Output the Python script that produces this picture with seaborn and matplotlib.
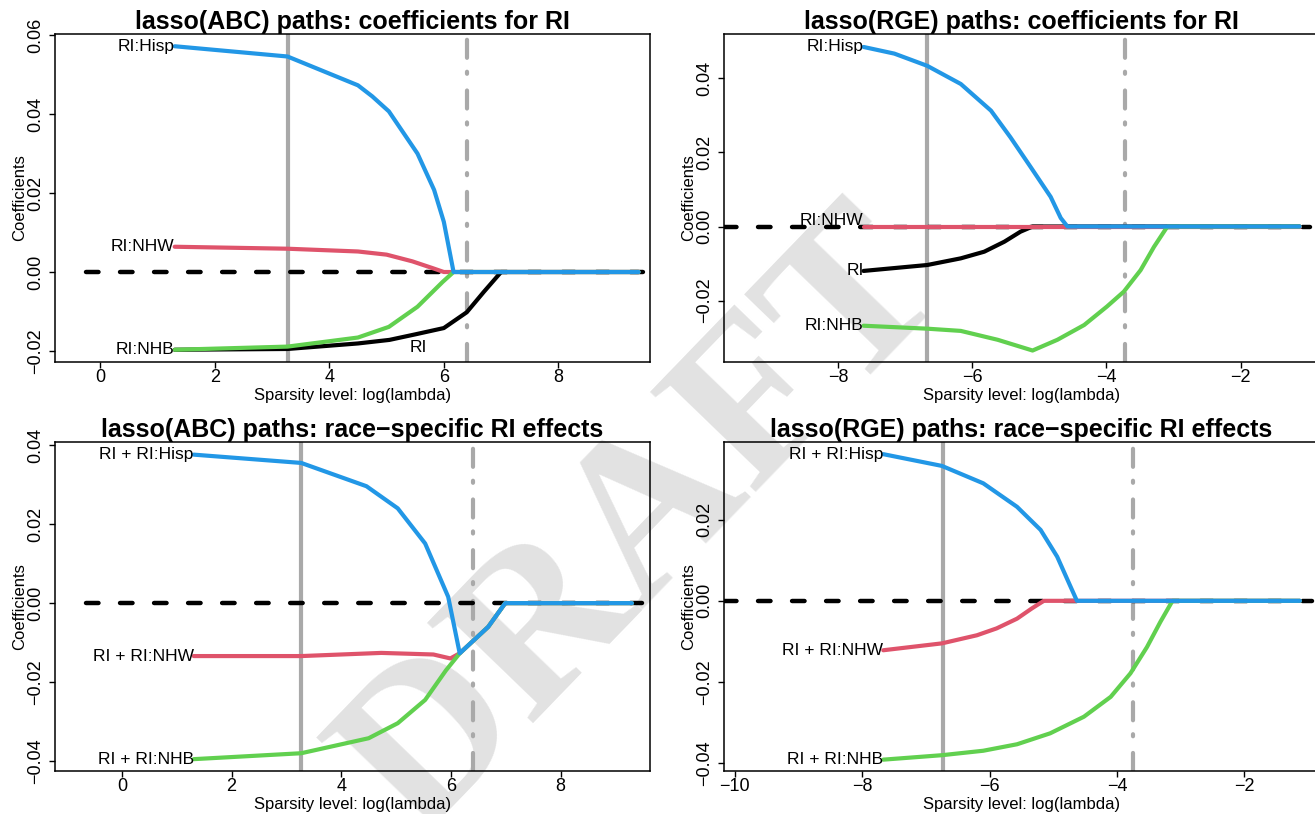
import numpy as np
import pandas as pd
import matplotlib
matplotlib.use("Agg")
import matplotlib.pyplot as plt
import seaborn as sns

# ---------------- data ----------------
term_order = ["RI", "RI:NHW", "RI:NHB", "RI:Hisp"]
term_colors = ["#000000", "#DF536B", "#61D04F", "#2297E6"]

# Panel 1: lasso(ABC) paths: coefficients for RI
p1_ri_x = [1.3, 3.27, 4.5, 5.05, 5.5, 6.0, 6.4, 6.7, 7.0, 9.4]
p1_ri_y = [-0.0197, -0.0195, -0.0181, -0.0172, -0.0158, -0.0142, -0.0102, -0.005, 0.0, 0.0]
p1_nhw_x = [1.3, 3.27, 4.5, 5.0, 5.45, 5.8, 6.0, 9.4]
p1_nhw_y = [0.0064, 0.0059, 0.0052, 0.0044, 0.0027, 0.001, 0.0, 0.0]
p1_nhb_x = [1.3, 3.27, 4.5, 5.04, 5.54, 5.98, 6.17, 9.4]
p1_nhb_y = [-0.0197, -0.0189, -0.0166, -0.0139, -0.0088, -0.0025, 0.0, 0.0]
p1_hisp_x = [1.3, 3.27, 4.5, 4.75, 5.04, 5.54, 5.83, 6.0, 6.17, 9.4]
p1_hisp_y = [0.0572, 0.0546, 0.0473, 0.0445, 0.0407, 0.030, 0.0208, 0.0127, 0.0, 0.0]

# Panel 2: lasso(RGE) paths: coefficients for RI
p2_ri_x = [-7.62, -6.67, -6.17, -5.82, -5.52, -5.28, -5.10, -1.12]
p2_ri_y = [-0.0120, -0.0104, -0.0086, -0.0068, -0.0041, -0.0014, 0.0, 0.0]
p2_nhw_x = [-7.62, -1.12]
p2_nhw_y = [0.0, 0.0]
p2_nhb_x = [-7.62, -6.67, -6.17, -5.62, -5.10, -4.73, -4.33, -3.99, -3.74, -3.49, -3.29, -3.09, -1.12]
p2_nhb_y = [-0.0268, -0.0276, -0.0282, -0.0306, -0.0335, -0.0306, -0.0266, -0.0216, -0.0176,
            -0.0118, -0.0055, 0.0, 0.0]
p2_hisp_x = [-7.62, -7.16, -6.67, -6.17, -5.72, -5.43, -5.13, -5.03, -4.83, -4.68, -4.58, -1.12]
p2_hisp_y = [0.0485, 0.0467, 0.0434, 0.0385, 0.0313, 0.0241, 0.0161, 0.0134, 0.008, 0.0023, 0.0, 0.0]

# Panel 3: lasso(ABC) paths: race-specific RI effects
p3_nhw_x = [1.31, 3.27, 4.73, 5.68, 5.99, 6.16, 6.68, 6.99, 9.3]
p3_nhw_y = [-0.0134, -0.0134, -0.0126, -0.013, -0.014, -0.0127, -0.006, 0.0, 0.0]
p3_nhb_x = [1.31, 3.27, 4.5, 5.03, 5.53, 5.91, 6.16, 6.68, 6.99, 9.3]
p3_nhb_y = [-0.0395, -0.038, -0.0342, -0.0304, -0.0245, -0.017, -0.0127, -0.006, 0.0, 0.0]
p3_hisp_x = [1.31, 3.27, 4.46, 5.03, 5.53, 5.95, 6.16, 6.68, 6.99, 9.3]
p3_hisp_y = [0.0376, 0.0355, 0.0296, 0.024, 0.0151, 0.0016, -0.0127, -0.006, 0.0, 0.0]

# Panel 4: lasso(RGE) paths: race-specific RI effects
p4_nhw_x = [-7.67, -6.75, -6.20, -5.89, -5.57, -5.34, -5.15, -1.13]
p4_nhw_y = [-0.0122, -0.0105, -0.0085, -0.0068, -0.0044, -0.0019, 0.0, 0.0]
p4_nhb_x = [-7.67, -6.75, -6.10, -5.57, -5.05, -4.52, -4.10, -3.79, -3.53, -3.32, -3.13, -1.13]
p4_nhb_y = [-0.0392, -0.0381, -0.037, -0.0354, -0.0327, -0.0286, -0.0237, -0.0179, -0.0114,
            -0.0052, 0.0, 0.0]
p4_hisp_x = [-7.67, -6.75, -6.10, -5.57, -5.20, -4.94, -4.73, -4.63, -1.13]
p4_hisp_y = [0.0362, 0.0333, 0.029, 0.0232, 0.0175, 0.0109, 0.0035, 0.0, 0.0]

titles = ["lasso(ABC) paths: coefficients for RI",
          "lasso(RGE) paths: coefficients for RI",
          "lasso(ABC) paths: race\u2212specific RI effects",
          "lasso(RGE) paths: race\u2212specific RI effects"]

p1_labels = ["RI:NHW", "RI:NHB", "RI:Hisp"]
p2_labels = ["RI", "RI:NHW", "RI:NHB", "RI:Hisp"]
p34_labels = ["RI + RI:NHW", "RI + RI:NHB", "RI + RI:Hisp"]

# chosen lambda values (solid = min, dash-dot = 1se)
p1_vlines = [3.27, 6.41]
p2_vlines = [-6.68, -3.725]
p3_vlines = [3.27, 6.41]
p4_vlines = [-6.73, -3.75]

p1_xticks = [0, 2, 4, 6, 8]
p2_xticks = [-8, -6, -4, -2]
p3_xticks = [0, 2, 4, 6, 8]
p4_xticks = [-10, -8, -6, -4, -2]
p1_yticks = [-0.02, 0.0, 0.02, 0.04, 0.06]
p2_yticks = [-0.02, 0.0, 0.02, 0.04]
p3_yticks = [-0.04, -0.02, 0.0, 0.02, 0.04]
p4_yticks = [-0.04, -0.02, 0.0, 0.02]

xlabel = "Sparsity level: log(lambda)"
ylabel = "Coefficients"

# ---------------- styling ----------------
sns.set_style("ticks")
plt.rcParams["font.family"] = ["Liberation Sans", "DejaVu Sans"]
plt.rcParams["lines.scale_dashes"] = False
plt.rcParams["axes.unicode_minus"] = True
plt.rcParams["text.color"] = "black"
plt.rcParams["axes.labelcolor"] = "black"
plt.rcParams["xtick.color"] = "black"
plt.rcParams["ytick.color"] = "black"

fig = plt.figure(figsize=(13.15, 8.14), dpi=100)
W, H = 1315.0, 814.0


def box(l, t, r, b):
    return [l / W, 1 - b / H, (r - l) / W, (b - t) / H]


def long_df(series):
    rows = []
    for name, xs, ys in series:
        for x, y in zip(xs, ys):
            rows.append({"loglambda": x, "coef": y, "term": name})
    return pd.DataFrame(rows)


panels = [
    dict(pos=box(55, 34, 650, 362), xlim=(-0.79, 9.6), ylim=(-0.0228, 0.0603),
         series=[("RI", p1_ri_x, p1_ri_y), ("RI:NHW", p1_nhw_x, p1_nhw_y),
                 ("RI:NHB", p1_nhb_x, p1_nhb_y), ("RI:Hisp", p1_hisp_x, p1_hisp_y)],
         labels=[(p1_labels[0], p1_nhw_x[0], p1_nhw_y[0]),
                 (p1_labels[1], p1_nhb_x[0], p1_nhb_y[0]),
                 (p1_labels[2], p1_hisp_x[0], p1_hisp_y[0])],
         center_label=("RI", 5.55, -0.0190),
         vlines=p1_vlines, zero=(-0.24, 9.49), xticks=p1_xticks, yticks=p1_yticks),
    dict(pos=box(724, 34, 1319, 362), xlim=(-9.70, -0.83), ylim=(-0.0366, 0.0520),
         series=[("RI", p2_ri_x, p2_ri_y), ("RI:NHW", p2_nhw_x, p2_nhw_y),
                 ("RI:NHB", p2_nhb_x, p2_nhb_y), ("RI:Hisp", p2_hisp_x, p2_hisp_y)],
         labels=[(p2_labels[0], p2_ri_x[0], p2_ri_y[0]),
                 (p2_labels[1], p2_nhw_x[0], 0.0016),
                 (p2_labels[2], p2_nhb_x[0], p2_nhb_y[0]),
                 (p2_labels[3], p2_hisp_x[0], p2_hisp_y[0])],
         center_label=None,
         vlines=p2_vlines, zero=(-9.70, -0.97), xticks=p2_xticks, yticks=p2_yticks),
    dict(pos=box(55, 442, 650, 771), xlim=(-1.22, 9.63), ylim=(-0.0425, 0.0408),
         series=[("RI:NHW", p3_nhw_x, p3_nhw_y),
                 ("RI:NHB", p3_nhb_x, p3_nhb_y), ("RI:Hisp", p3_hisp_x, p3_hisp_y)],
         labels=[(p34_labels[0], p3_nhw_x[0], p3_nhw_y[0]),
                 (p34_labels[1], p3_nhb_x[0], p3_nhb_y[0]),
                 (p34_labels[2], p3_hisp_x[0], p3_hisp_y[0])],
         center_label=None,
         vlines=p3_vlines, zero=(-0.66, 9.49), xticks=p3_xticks, yticks=p3_yticks),
    dict(pos=box(724, 442, 1319, 771), xlim=(-10.17, -0.83), ylim=(-0.0420, 0.0392),
         series=[("RI:NHW", p4_nhw_x, p4_nhw_y),
                 ("RI:NHB", p4_nhb_x, p4_nhb_y), ("RI:Hisp", p4_hisp_x, p4_hisp_y)],
         labels=[(p34_labels[0], p4_nhw_x[0], p4_nhw_y[0]),
                 (p34_labels[1], p4_nhb_x[0], p4_nhb_y[0]),
                 (p34_labels[2], p4_hisp_x[0], p4_hisp_y[0])],
         center_label=None,
         vlines=p4_vlines, zero=(-10.17, -0.94), xticks=p4_xticks, yticks=p4_yticks),
]

palette = dict(zip(term_order, term_colors))

# watermark (behind the panels)
fig.text(645 / W, 1 - 527 / H, "DRAFT", fontsize=160, fontweight="bold",
         family=["Liberation Serif", "DejaVu Serif"], color="#E2E2E2",
         rotation=46, ha="center", va="center", zorder=-5)

for i, p in enumerate(panels):
    ax = fig.add_axes(p["pos"])
    ax.patch.set_alpha(0.0)
    # vertical reference lines
    ax.axvline(p["vlines"][0], color="#A9A9A9", lw=3.0, zorder=1)
    ax.axvline(p["vlines"][1], color="#A9A9A9", lw=3.0, zorder=1,
               dashes=(13, 12, 1.5, 10), dash_capstyle="round")
    # zero line
    ax.plot(list(p["zero"]), [0, 0], color="black", lw=3.2, dashes=(9, 15.5),
            dash_capstyle="round", zorder=2)
    df = long_df(p["series"])
    hue_order = [s[0] for s in p["series"]]
    sns.lineplot(data=df, x="loglambda", y="coef", hue="term", hue_order=hue_order,
                 palette=palette, estimator=None, sort=False, legend=False,
                 lw=3.0, solid_capstyle="round", solid_joinstyle="round", ax=ax, zorder=3)
    for txt, x, y in p["labels"]:
        ax.text(x, y, txt, ha="right", va="center", fontsize=12.5, color="black", zorder=4)
    if p["center_label"] is not None:
        t, x, y = p["center_label"]
        ax.text(x, y, t, ha="center", va="center", fontsize=12.5, color="black", zorder=4)

    ax.set_xlim(*p["xlim"])
    ax.set_ylim(*p["ylim"])
    ax.set_xticks(p["xticks"])
    ax.set_xticklabels([f"{v:g}".replace("-", "\u2212") for v in p["xticks"]])
    ax.set_yticks(p["yticks"])
    ax.set_yticklabels([f"{v:.2f}".replace("-", "\u2212") for v in p["yticks"]],
                       rotation=90, va="center")
    ax.tick_params(axis="both", direction="out", length=4, width=1.0, color="black",
                   labelsize=13, labelcolor="black")
    ax.tick_params(axis="x", pad=0.8)
    ax.tick_params(axis="y", pad=3.5)
    for s in ax.spines.values():
        s.set_color("black")
        s.set_linewidth(1.1)
        s.set_visible(True)
    ax.set_xlabel(xlabel, fontsize=12, labelpad=1.5, color="black")
    ax.set_ylabel(ylabel, fontsize=12, labelpad=0.5, color="black")
    ax.set_title(titles[i], fontsize=18, fontweight="bold", pad=2, color="black")
    ax.grid(False)

fig.savefig("out.png", dpi=100)
